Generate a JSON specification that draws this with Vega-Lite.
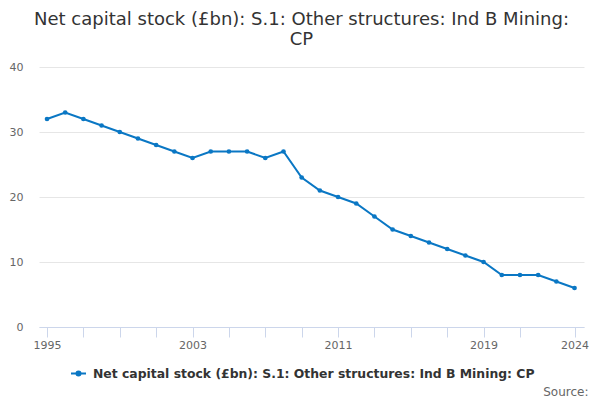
{
  "$schema": "https://vega.github.io/schema/vega-lite/v6.json",
  "autosize": "none",
  "width": 545,
  "height": 260,
  "padding": {"left": 39, "top": 67, "right": 16, "bottom": 73},
  "background": "white",
  "title": {
    "text": ["Net capital stock (£bn): S.1: Other structures: Ind B Mining:", "CP"],
    "font": "DejaVu Sans",
    "fontSize": 18,
    "fontWeight": "normal",
    "color": "#333333",
    "anchor": "middle",
    "dx": -10,
    "offset": 12,
    "lineHeight": 20
  },
  "data": {
    "values": [
      {"year": 1995, "value": 32, "series": "Net capital stock (£bn): S.1: Other structures: Ind B Mining: CP"},
      {"year": 1996, "value": 33, "series": "Net capital stock (£bn): S.1: Other structures: Ind B Mining: CP"},
      {"year": 1997, "value": 32, "series": "Net capital stock (£bn): S.1: Other structures: Ind B Mining: CP"},
      {"year": 1998, "value": 31, "series": "Net capital stock (£bn): S.1: Other structures: Ind B Mining: CP"},
      {"year": 1999, "value": 30, "series": "Net capital stock (£bn): S.1: Other structures: Ind B Mining: CP"},
      {"year": 2000, "value": 29, "series": "Net capital stock (£bn): S.1: Other structures: Ind B Mining: CP"},
      {"year": 2001, "value": 28, "series": "Net capital stock (£bn): S.1: Other structures: Ind B Mining: CP"},
      {"year": 2002, "value": 27, "series": "Net capital stock (£bn): S.1: Other structures: Ind B Mining: CP"},
      {"year": 2003, "value": 26, "series": "Net capital stock (£bn): S.1: Other structures: Ind B Mining: CP"},
      {"year": 2004, "value": 27, "series": "Net capital stock (£bn): S.1: Other structures: Ind B Mining: CP"},
      {"year": 2005, "value": 27, "series": "Net capital stock (£bn): S.1: Other structures: Ind B Mining: CP"},
      {"year": 2006, "value": 27, "series": "Net capital stock (£bn): S.1: Other structures: Ind B Mining: CP"},
      {"year": 2007, "value": 26, "series": "Net capital stock (£bn): S.1: Other structures: Ind B Mining: CP"},
      {"year": 2008, "value": 27, "series": "Net capital stock (£bn): S.1: Other structures: Ind B Mining: CP"},
      {"year": 2009, "value": 23, "series": "Net capital stock (£bn): S.1: Other structures: Ind B Mining: CP"},
      {"year": 2010, "value": 21, "series": "Net capital stock (£bn): S.1: Other structures: Ind B Mining: CP"},
      {"year": 2011, "value": 20, "series": "Net capital stock (£bn): S.1: Other structures: Ind B Mining: CP"},
      {"year": 2012, "value": 19, "series": "Net capital stock (£bn): S.1: Other structures: Ind B Mining: CP"},
      {"year": 2013, "value": 17, "series": "Net capital stock (£bn): S.1: Other structures: Ind B Mining: CP"},
      {"year": 2014, "value": 15, "series": "Net capital stock (£bn): S.1: Other structures: Ind B Mining: CP"},
      {"year": 2015, "value": 14, "series": "Net capital stock (£bn): S.1: Other structures: Ind B Mining: CP"},
      {"year": 2016, "value": 13, "series": "Net capital stock (£bn): S.1: Other structures: Ind B Mining: CP"},
      {"year": 2017, "value": 12, "series": "Net capital stock (£bn): S.1: Other structures: Ind B Mining: CP"},
      {"year": 2018, "value": 11, "series": "Net capital stock (£bn): S.1: Other structures: Ind B Mining: CP"},
      {"year": 2019, "value": 10, "series": "Net capital stock (£bn): S.1: Other structures: Ind B Mining: CP"},
      {"year": 2020, "value": 8, "series": "Net capital stock (£bn): S.1: Other structures: Ind B Mining: CP"},
      {"year": 2021, "value": 8, "series": "Net capital stock (£bn): S.1: Other structures: Ind B Mining: CP"},
      {"year": 2022, "value": 8, "series": "Net capital stock (£bn): S.1: Other structures: Ind B Mining: CP"},
      {"year": 2023, "value": 7, "series": "Net capital stock (£bn): S.1: Other structures: Ind B Mining: CP"},
      {"year": 2024, "value": 6, "series": "Net capital stock (£bn): S.1: Other structures: Ind B Mining: CP"}
    ]
  },
  "mark": {
    "type": "line",
    "strokeWidth": 2,
    "point": {"filled": true, "size": 22}
  },
  "encoding": {
    "x": {
      "field": "year",
      "type": "quantitative",
      "scale": {"domain": [1994.56, 2024.52], "nice": false, "zero": false},
      "axis": {
        "title": "Source:",
        "titleX": 549,
        "titleY": 68,
        "titleAlign": "right",
        "titleAnchor": null,
        "titleBaseline": "alphabetic",
        "titleFont": "DejaVu Sans",
        "titleFontSize": 12,
        "titleFontWeight": "normal",
        "titleColor": "#666666",
        "values": [1995, 1997, 1999, 2001, 2003, 2005, 2007, 2009, 2011, 2013, 2015, 2017, 2019, 2021, 2024],
        "format": "d",
        "labelExpr": "indexof([1995, 2003, 2011, 2019, 2024], datum.value) >= 0 ? datum.label : ''",
        "grid": false,
        "domainColor": "#ccd6eb",
        "tickColor": "#ccd6eb",
        "tickSize": 10,
        "labelFont": "DejaVu Sans",
        "labelFontSize": 11,
        "labelColor": "#666666",
        "labelPadding": 2,
        "labelFlush": false,
        "labelOverlap": false
      }
    },
    "y": {
      "field": "value",
      "type": "quantitative",
      "scale": {"domain": [0, 40], "nice": false},
      "axis": {
        "title": null,
        "values": [0, 10, 20, 30, 40],
        "domain": false,
        "ticks": false,
        "gridColor": "#e6e6e6",
        "labelFont": "DejaVu Sans",
        "labelFontSize": 11,
        "labelColor": "#666666",
        "labelPadding": 16
      }
    },
    "color": {
      "field": "series",
      "type": "nominal",
      "scale": {"range": ["#0a77c4"]},
      "legend": {
        "title": null,
        "orient": "none",
        "legendX": 31,
        "legendY": 298,
        "symbolType": "M-1,0H1M-0.27,0A0.27,0.27,0,1,0,0.27,0A0.27,0.27,0,1,0,-0.27,0Z",
        "symbolSize": 225,
        "symbolStrokeWidth": 2,
        "labelFont": "DejaVu Sans",
        "labelFontSize": 12.4,
        "labelFontWeight": "bold",
        "labelColor": "#333333",
        "labelOffset": 6,
        "labelLimit": 600
      }
    }
  },
  "config": {
    "view": {"stroke": null}
  }
}
